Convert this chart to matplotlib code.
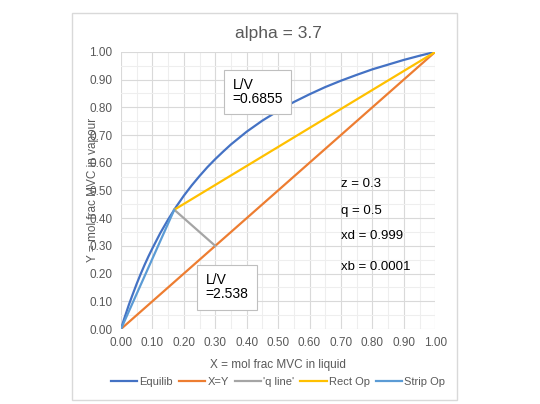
import matplotlib.pyplot as plt
from matplotlib.patches import Rectangle

plt.rcParams['font.family'] = ['Liberation Sans', 'DejaVu Sans']

# equilibrium curve
eq_x = [0.0, 0.005, 0.01, 0.015, 0.025, 0.035, 0.05, 0.0625, 0.075, 0.0875, 0.1,
        0.125, 0.15, 0.175, 0.2, 0.225, 0.25, 0.275, 0.3, 0.325, 0.35, 0.375, 0.4,
        0.45, 0.5, 0.55, 0.6, 0.65, 0.7, 0.75, 0.8, 0.85, 0.9, 0.95, 1.0]
eq_y = [0.0, 0.018, 0.036, 0.053, 0.087, 0.118, 0.163, 0.198, 0.231, 0.262, 0.291,
        0.346, 0.395, 0.440, 0.481, 0.518, 0.552, 0.584, 0.613, 0.640, 0.666,
        0.689, 0.712, 0.752, 0.787, 0.819, 0.847, 0.873, 0.896, 0.917, 0.937,
        0.954, 0.971, 0.986, 1.0]

diag_x = [0.0, 1.0]
diag_y = [0.0, 1.0]

qline_x = [0.3, 0.1696]
qline_y = [0.3, 0.4304]

rect_x = [0.1696, 0.999]
rect_y = [0.4304, 0.999]

strip_x = [0.0001, 0.1696]
strip_y = [0.0001, 0.4304]

params = ['z = 0.3', 'q = 0.5', 'xd = 0.999', 'xb = 0.0001']
param_y = [0.525, 0.425, 0.335, 0.225]

grey = '#595959'

fig = plt.figure(figsize=(5.4, 4.04), dpi=100)
# chart area border
fig.patches.append(Rectangle((72 / 540, 4 / 404), 385 / 540, 387 / 404,
                             transform=fig.transFigure, fill=False,
                             edgecolor='#d9d9d9', linewidth=1))

ax = fig.add_axes([0.224, 0.1856, 0.582, 0.686])
ax.set_xlim(0, 1)
ax.set_ylim(0, 1)
ax.set_xticks([i / 10 for i in range(11)])
ax.set_yticks([i / 10 for i in range(11)])
ax.set_xticks([i / 20 for i in range(1, 20, 2)], minor=True)
ax.set_yticks([i / 20 for i in range(1, 20, 2)], minor=True)
ax.set_xticklabels(['%.2f' % (i / 10) for i in range(11)])
ax.set_yticklabels(['%.2f' % (i / 10) for i in range(11)])
ax.grid(True, which='major', color='#d9d9d9', linewidth=0.8)
ax.grid(True, which='minor', color='#eeeeee', linewidth=0.8)
ax.set_axisbelow(True)
for s in ax.spines.values():
    s.set_visible(False)
ax.tick_params(which='both', length=0, labelsize=8.5, colors=grey, pad=6)

ax.plot(eq_x, eq_y, color='#4472C4', lw=1.6, label='Equilib')
ax.plot(diag_x, diag_y, color='#ED7D31', lw=1.6, label='X=Y')
ax.plot(qline_x, qline_y, color='#A5A5A5', lw=1.6, label="'q line'")
ax.plot(rect_x, rect_y, color='#FFC000', lw=1.6, label='Rect Op')
ax.plot(strip_x, strip_y, color='#5B9BD5', lw=1.6, label='Strip Op')

box = dict(boxstyle='square,pad=0.6', facecolor='white', edgecolor='#bfbfbf', lw=0.8)
ax.text(0.355, 0.855, 'L/V\n=0.6855', fontsize=10, va='center', ha='left', bbox=box,
        linespacing=1.0)
ax.text(0.27, 0.15, 'L/V\n=2.538', fontsize=10, va='center', ha='left', bbox=box,
        linespacing=1.0)

for t, yy in zip(params, param_y):
    ax.text(0.70, yy, t, fontsize=9.5, va='center', ha='left', color='black')

fig.text(0.515, 0.918, 'alpha = 3.7', fontsize=12.5, color=grey, ha='center', va='center')
ax.set_xlabel('X = mol frac MVC in liquid', fontsize=8.5, color=grey, labelpad=7)
fig.text(93 / 540, 1 - 190 / 404, 'Y = mol frac MVC in vapour', fontsize=8.5,
         color=grey, rotation=90, ha='center', va='center')

ax.legend(loc='center', bbox_to_anchor=(0.5, -0.19), ncol=5, frameon=False,
          fontsize=8, handlelength=2.4, columnspacing=0.5, handletextpad=0.2,
          labelcolor=grey)

fig.savefig('out.png', dpi=100)
